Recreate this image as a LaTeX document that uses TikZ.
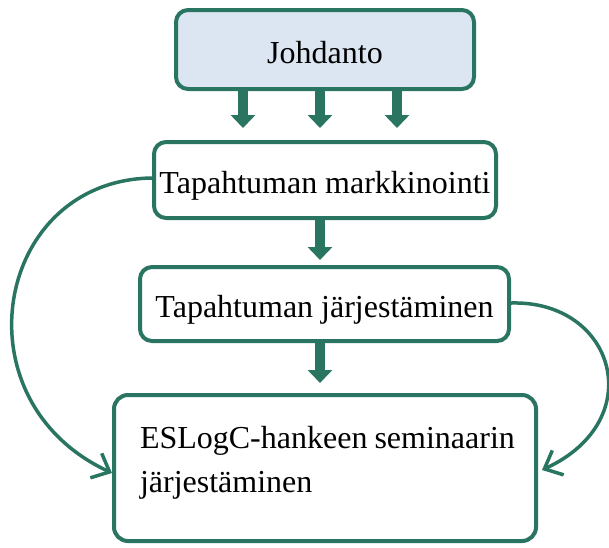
\documentclass[tikz,border=0pt]{standalone}
\usepackage{fontspec}
\setmainfont{Liberation Serif}
\usetikzlibrary{arrows.meta}
\definecolor{boxgreen}{RGB}{42,117,98}
\definecolor{introfill}{RGB}{220,230,242}
\begin{document}
\begin{tikzpicture}[x=1pt,y=-1pt,
  box/.style={draw=boxgreen, line width=4pt, rounded corners=12pt, fill=white,
    font=\fontsize{32}{44}\selectfont, inner sep=0pt},
  blk/.style={draw=boxgreen, line width=10pt, -{Triangle[length=13pt,width=24pt]}},
  curvearrow/.style={draw=boxgreen, line width=3.5pt,
    -{Straight Barb[length=15pt,width=27pt,line width=3.5pt]}}]
\useasboundingbox (0,0) rectangle (609,547);
\node[box, fill=introfill, minimum width=298pt, minimum height=79pt,
  text height=27pt, text depth=0pt] (j) at (325,49.5) {Johdanto};
\node[box, minimum width=342pt, minimum height=76pt,
  text height=26pt, text depth=0pt] (t2) at (325,180) {Tapahtuman markkinointi};
\node[box, minimum width=369pt, minimum height=74pt,
  text height=26pt, text depth=0pt] (t3) at (324.5,304) {Tapahtuman järjestäminen};
\node[box, rounded corners=14pt, minimum width=422pt, minimum height=146pt,
  inner xsep=26pt, text width=370pt, align=left,
  text height=22pt, text depth=62pt] (t4) at (325,468)
  {\mbox{ESLogC-hankeen\hspace{7pt}seminaarin}\\järjestäminen};
% block arrows
\draw[blk, shorten >=12pt] ([xshift=-82pt]j.south) -- ([xshift=-82pt]j.south |- t2.north);
\draw[blk, shorten >=12pt] ([xshift=-5pt]j.south) -- ([xshift=-5pt]j.south |- t2.north);
\draw[blk, shorten >=12pt] ([xshift=72pt]j.south) -- ([xshift=72pt]j.south |- t2.north);
\draw[blk, shorten >=5pt] ([xshift=-5pt]t2.south) -- ([xshift=-5pt]t2.south |- t3.north);
\draw[blk, shorten >=10pt] ([xshift=-4.5pt]t3.south) -- ([xshift=-4.5pt]t3.south |- t4.north);
% curved arrows
\draw[curvearrow] ([yshift=2pt]t2.west) .. controls (-5,180) and (-45,400) .. ([yshift=-5pt]t4.west);
\draw[curvearrow] ([yshift=1pt]t3.east) .. controls (615,300) and (650,420) .. ([xshift=4pt,yshift=-2pt]t4.east);
\end{tikzpicture}
\end{document}
